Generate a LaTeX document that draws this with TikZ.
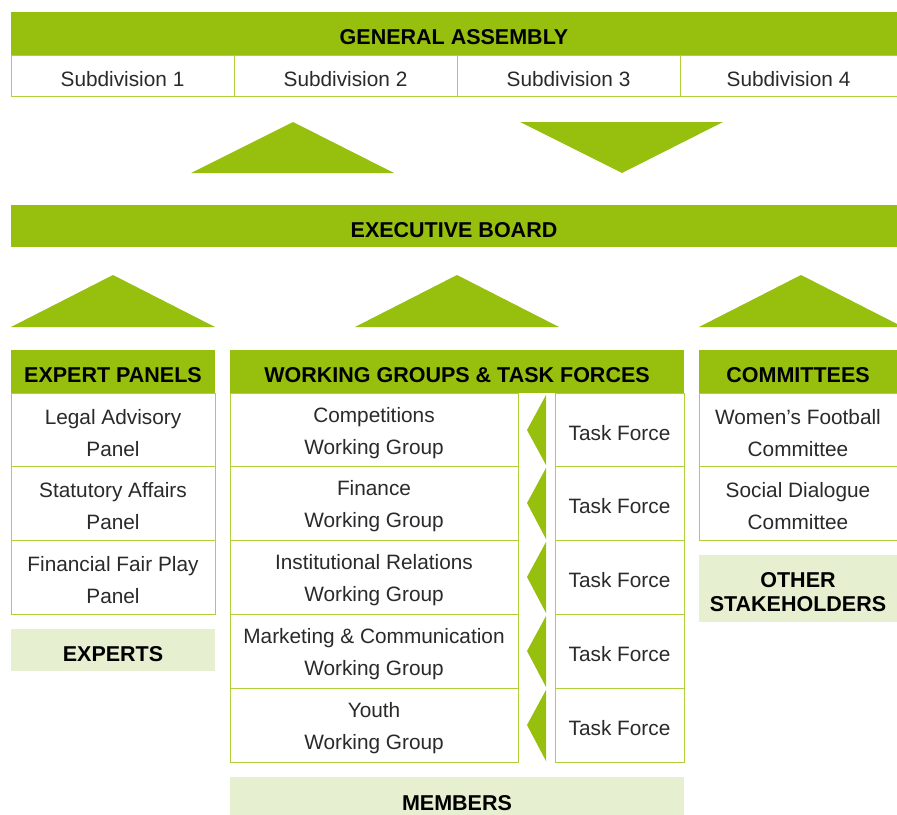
\documentclass[tikz,border=0pt]{standalone}
\usepackage{fontspec}
\setmainfont{Liberation Sans}
\definecolor{G}{HTML}{97BF0D}
\definecolor{LG}{HTML}{AFD03A}
\definecolor{PL}{HTML}{E6EFCF}
\definecolor{TX}{HTML}{2A2A2A}
\newcommand\tup{\rule{0pt}{22pt}}
\newcommand\bup{\rule{0pt}{23pt}}
\begin{document}
\begin{tikzpicture}[x=1pt,y=-1pt,
  sz/.style 2 args={minimum width=#1, minimum height=#2},
  hdr/.style={fill=G, draw=none, inner sep=0pt, outer sep=0pt, font=\fontsize{21.5}{24}\selectfont\bfseries, text=black, align=center},
  cell/.style={draw=LG, line width=1pt, fill=white, inner sep=0pt, outer sep=0pt, font=\fontsize{20.8}{32}\selectfont, text=TX, align=center},
  soft/.style={fill=PL, draw=none, inner sep=0pt, outer sep=0pt, font=\fontsize{21.5}{24}\selectfont\bfseries, text=black, align=center},
  tri/.style={fill=G, draw=none},
]
\useasboundingbox (0,0) rectangle (897,814);
\clip (0,0) rectangle (897,814);

% General assembly
\node[hdr, sz={886}{43}] (ga) at (454,33.5) {\bup GENERAL ASSEMBLY};
\node[cell, sz={223}{41}] (s1) at (122.5,75.5) {\tup Subdivision 1};
\node[cell, sz={223}{41}] (s2) at (345.5,75.5) {\tup Subdivision 2};
\node[cell, sz={223}{41}] (s3) at (568.5,75.5) {\tup Subdivision 3};
\node[cell, sz={217}{41}] (s4) at (788.5,75.5) {\tup Subdivision 4};

% arrows between assembly and board
\fill[tri] (191,173) -- (293,122) -- (394,173) -- cycle;
\fill[tri] (520,122) -- (723,122) -- (622,173) -- cycle;

% Executive board
\node[hdr, sz={886}{42}] (eb) at (454,226) {\bup EXECUTIVE BOARD};

\fill[tri] (11,327) -- (113,275) -- (215,327) -- cycle;
\fill[tri] (355,327) -- (457,275) -- (559,327) -- cycle;
\fill[tri] (699,327) -- (801,275) -- (903,327) -- cycle;

% Expert panels
\node[hdr, sz={204}{43}] (ep) at (113,371.5) {\bup EXPERT PANELS};
\node[cell, sz={204}{73}] (ep1) at (113,429.5) {\tup Legal Advisory\\Panel};
\node[cell, sz={204}{74}] (ep2) at (113,503) {\tup Statutory Affairs\\Panel};
\node[cell, sz={204}{74}] (ep3) at (113,577) {\tup Financial Fair Play\\Panel};
\node[soft, sz={204}{42}] (ex) at (113,650) {\bup EXPERTS};

% Working groups
\node[hdr, sz={454}{43}] (wg) at (457,371.5) {\bup WORKING GROUPS \& TASK FORCES};
\node[cell, sz={288}{73}] (wg1) at (374,429.5) {\tup Competitions\\Working Group};
\node[cell, sz={288}{74}] (wg2) at (374,503) {\tup Finance\\Working Group};
\node[cell, sz={288}{74}] (wg3) at (374,577) {\tup Institutional Relations\\Working Group};
\node[cell, sz={288}{74}] (wg4) at (374,651) {\tup Marketing \& Communication\\Working Group};
\node[cell, sz={288}{74}] (wg5) at (374,725) {\tup Youth\\Working Group};

\node[cell, sz={129}{73}] (tf1) at (619.5,429.5) {\tup Task Force};
\node[cell, sz={129}{74}] (tf2) at (619.5,503) {\tup Task Force};
\node[cell, sz={129}{74}] (tf3) at (619.5,577) {\tup Task Force};
\node[cell, sz={129}{74}] (tf4) at (619.5,651) {\tup Task Force};
\node[cell, sz={129}{74}] (tf5) at (619.5,725) {\tup Task Force};

\fill[tri] (546,395) -- (546,465) -- (527,430) -- cycle;
\fill[tri] (546,468) -- (546,539) -- (527,503) -- cycle;
\fill[tri] (546,542) -- (546,613) -- (527,577) -- cycle;
\fill[tri] (546,616) -- (546,687) -- (527,651) -- cycle;
\fill[tri] (546,690) -- (546,761) -- (527,725) -- cycle;

\node[soft, sz={454}{44}] (mem) at (457,799) {\bup MEMBERS};

% Committees
\node[hdr, sz={198}{43}] (cm) at (798,371.5) {\bup COMMITTEES};
\node[cell, sz={198}{73}] (cm1) at (798,429.5) {\tup Women’s Football\\Committee};
\node[cell, sz={198}{74}] (cm2) at (798,503) {\tup Social Dialogue\\Committee};
\node[soft, sz={198}{67}] (os) at (798,588.5) {\bup OTHER\\STAKEHOLDERS};
\end{tikzpicture}
\end{document}
